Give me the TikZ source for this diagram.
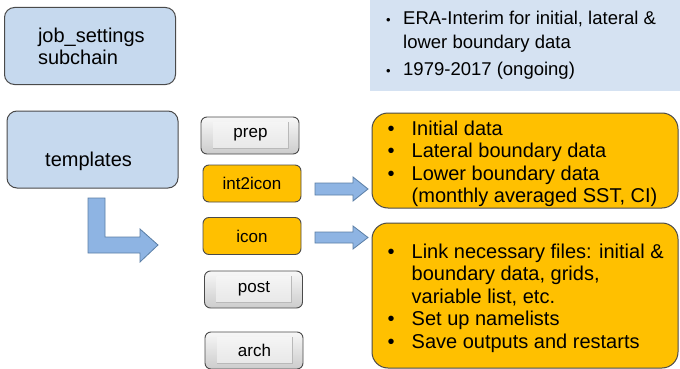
\documentclass[tikz,border=0pt]{standalone}
\usepackage{fontspec}
\setmainfont{Liberation Sans}
\usetikzlibrary{calc}
\definecolor{lblue}{HTML}{C6D9EE}
\definecolor{tblue}{HTML}{D5E2F2}
\definecolor{orng}{HTML}{FFC000}
\definecolor{ablue}{HTML}{8EB4E3}
\definecolor{aborder}{HTML}{5B7FA6}
\definecolor{bord}{HTML}{4A4A4A}
\tikzset{
  bluebox/.style={draw=bord, line width=1pt, fill=lblue, rounded corners=10pt,
    minimum width=171pt, minimum height=77pt, inner sep=0pt},
  bigtext/.style={font=\fontsize{20}{22}\selectfont, inner sep=0pt},
  orangebtn/.style={draw=bord, line width=0.9pt, fill=orng, rounded corners=6pt,
    minimum width=98pt, minimum height=37pt, inner sep=0pt, font=\fontsize{17}{20}\selectfont},
  graybtn/.style={draw=bord, line width=0.9pt, top color=gray!6, bottom color=gray!40,
    rounded corners=6pt, minimum width=98pt, minimum height=37pt, inner sep=0pt},
  btninner/.style={top color=gray!8, bottom color=gray!18, minimum width=75pt,
    minimum height=26pt, inner sep=0pt, font=\fontsize{17}{20}\selectfont},
  btnshadow/.style={draw=gray!55, line width=0.9pt},
  infobox/.style={draw=bord, line width=1pt, fill=orng, rounded corners=16pt,
    minimum width=306pt, inner sep=0pt},
  blockarrow/.style={fill=ablue, draw=aborder, line width=0.8pt, line join=miter},
  infotext/.style={anchor=base west, inner sep=0pt, font=\fontsize{20}{22.6}\selectfont}
}
\newcommand{\bul}{\makebox[24pt][l]{\textbullet}}
\newcommand{\sbul}{\makebox[17pt][l]{\fontsize{13}{13}\selectfont\textbullet}}
\begin{document}
\begin{tikzpicture}[x=1pt,y=-1pt]
\clip (0,0) rectangle (680,369);
\fill[white] (0,0) rectangle (680,369);

% top right info box (cut at top)
\node[fill=tblue, minimum width=310pt, minimum height=96pt, inner sep=0pt] (era) at (525,43) {};
\node[anchor=base west, inner sep=0pt, font=\fontsize{18.5}{24}\selectfont] (eratext) at (386,25)
  {\begin{tabular}[t]{@{}l@{}l@{}}
   \sbul & ERA-Interim for initial, lateral \&\\
         & lower boundary data\\[3pt]
   \sbul & 1979-2017 (ongoing)
   \end{tabular}};

% left blue boxes
\node[bluebox, text width=104pt, align=left, font=\fontsize{20}{22}\selectfont] (job) at (90,46)
  {job\_settings\\subchain};
\node[bluebox] (tmpl) at (92.5,149.5) {};
\node[bigtext, anchor=base west] (tmpltext) at (45,166) {templates};

% L-shaped arrow
\draw[blockarrow] (88,198) -- (105,198) -- (105,237) -- (140,237) -- (140,229)
  -- (158,245) -- (140,262) -- (140,253) -- (88,253) -- cycle;

% job buttons
\node[graybtn] (prep) at (250,135.5) {};
\node[btninner] (preptext) at (250.5,135) {prep};
\draw[btnshadow] (preptext.south west) -- (preptext.south east) -- (preptext.north east);
\node[orangebtn] (i2c) at (252,183.5) {int2icon};
\node[orangebtn] (icon) at (252,236) {icon};
\node[graybtn] (post) at (253.5,289.5) {};
\node[btninner] (posttext) at (254,289) {post};
\draw[btnshadow] (posttext.south west) -- (posttext.south east) -- (posttext.north east);
\node[graybtn] (arch) at (254,350.5) {};
\node[btninner] (archtext) at (254.5,350) {arch};
\draw[btnshadow] (archtext.south west) -- (archtext.south east) -- (archtext.north east);

% info boxes
\node[infobox, minimum height=95pt] (box1) at (525,160.5) {};
\node[infotext] (box1text) at (387.5,135)
  {\begin{tabular}[t]{@{}l@{}l@{}}
   \bul & Initial data\\
   \bul & Lateral boundary data\\
   \bul & Lower boundary data\\
        & (monthly averaged SST, CI)
   \end{tabular}};
\node[infobox, minimum height=145pt] (box2) at (525,295.5) {};
\node[infotext] (box2text) at (387.5,258)
  {\begin{tabular}[t]{@{}l@{}l@{}}
   \bul & Link necessary files: initial \&\\
        & boundary data, grids,\\
        & variable list, etc.\\
   \bul & Set up namelists\\
   \bul & Save outputs and restarts
   \end{tabular}};

% block arrows to info boxes
\draw[blockarrow] (315,183) -- (353,183) -- (353,177) -- (368,189) -- (353,201)
  -- (353,195) -- (315,195) -- cycle;
\draw[blockarrow] (315,232) -- (353,232) -- (353,226) -- (368,237.5) -- (353,249)
  -- (353,243) -- (315,243) -- cycle;
\end{tikzpicture}
\end{document}
